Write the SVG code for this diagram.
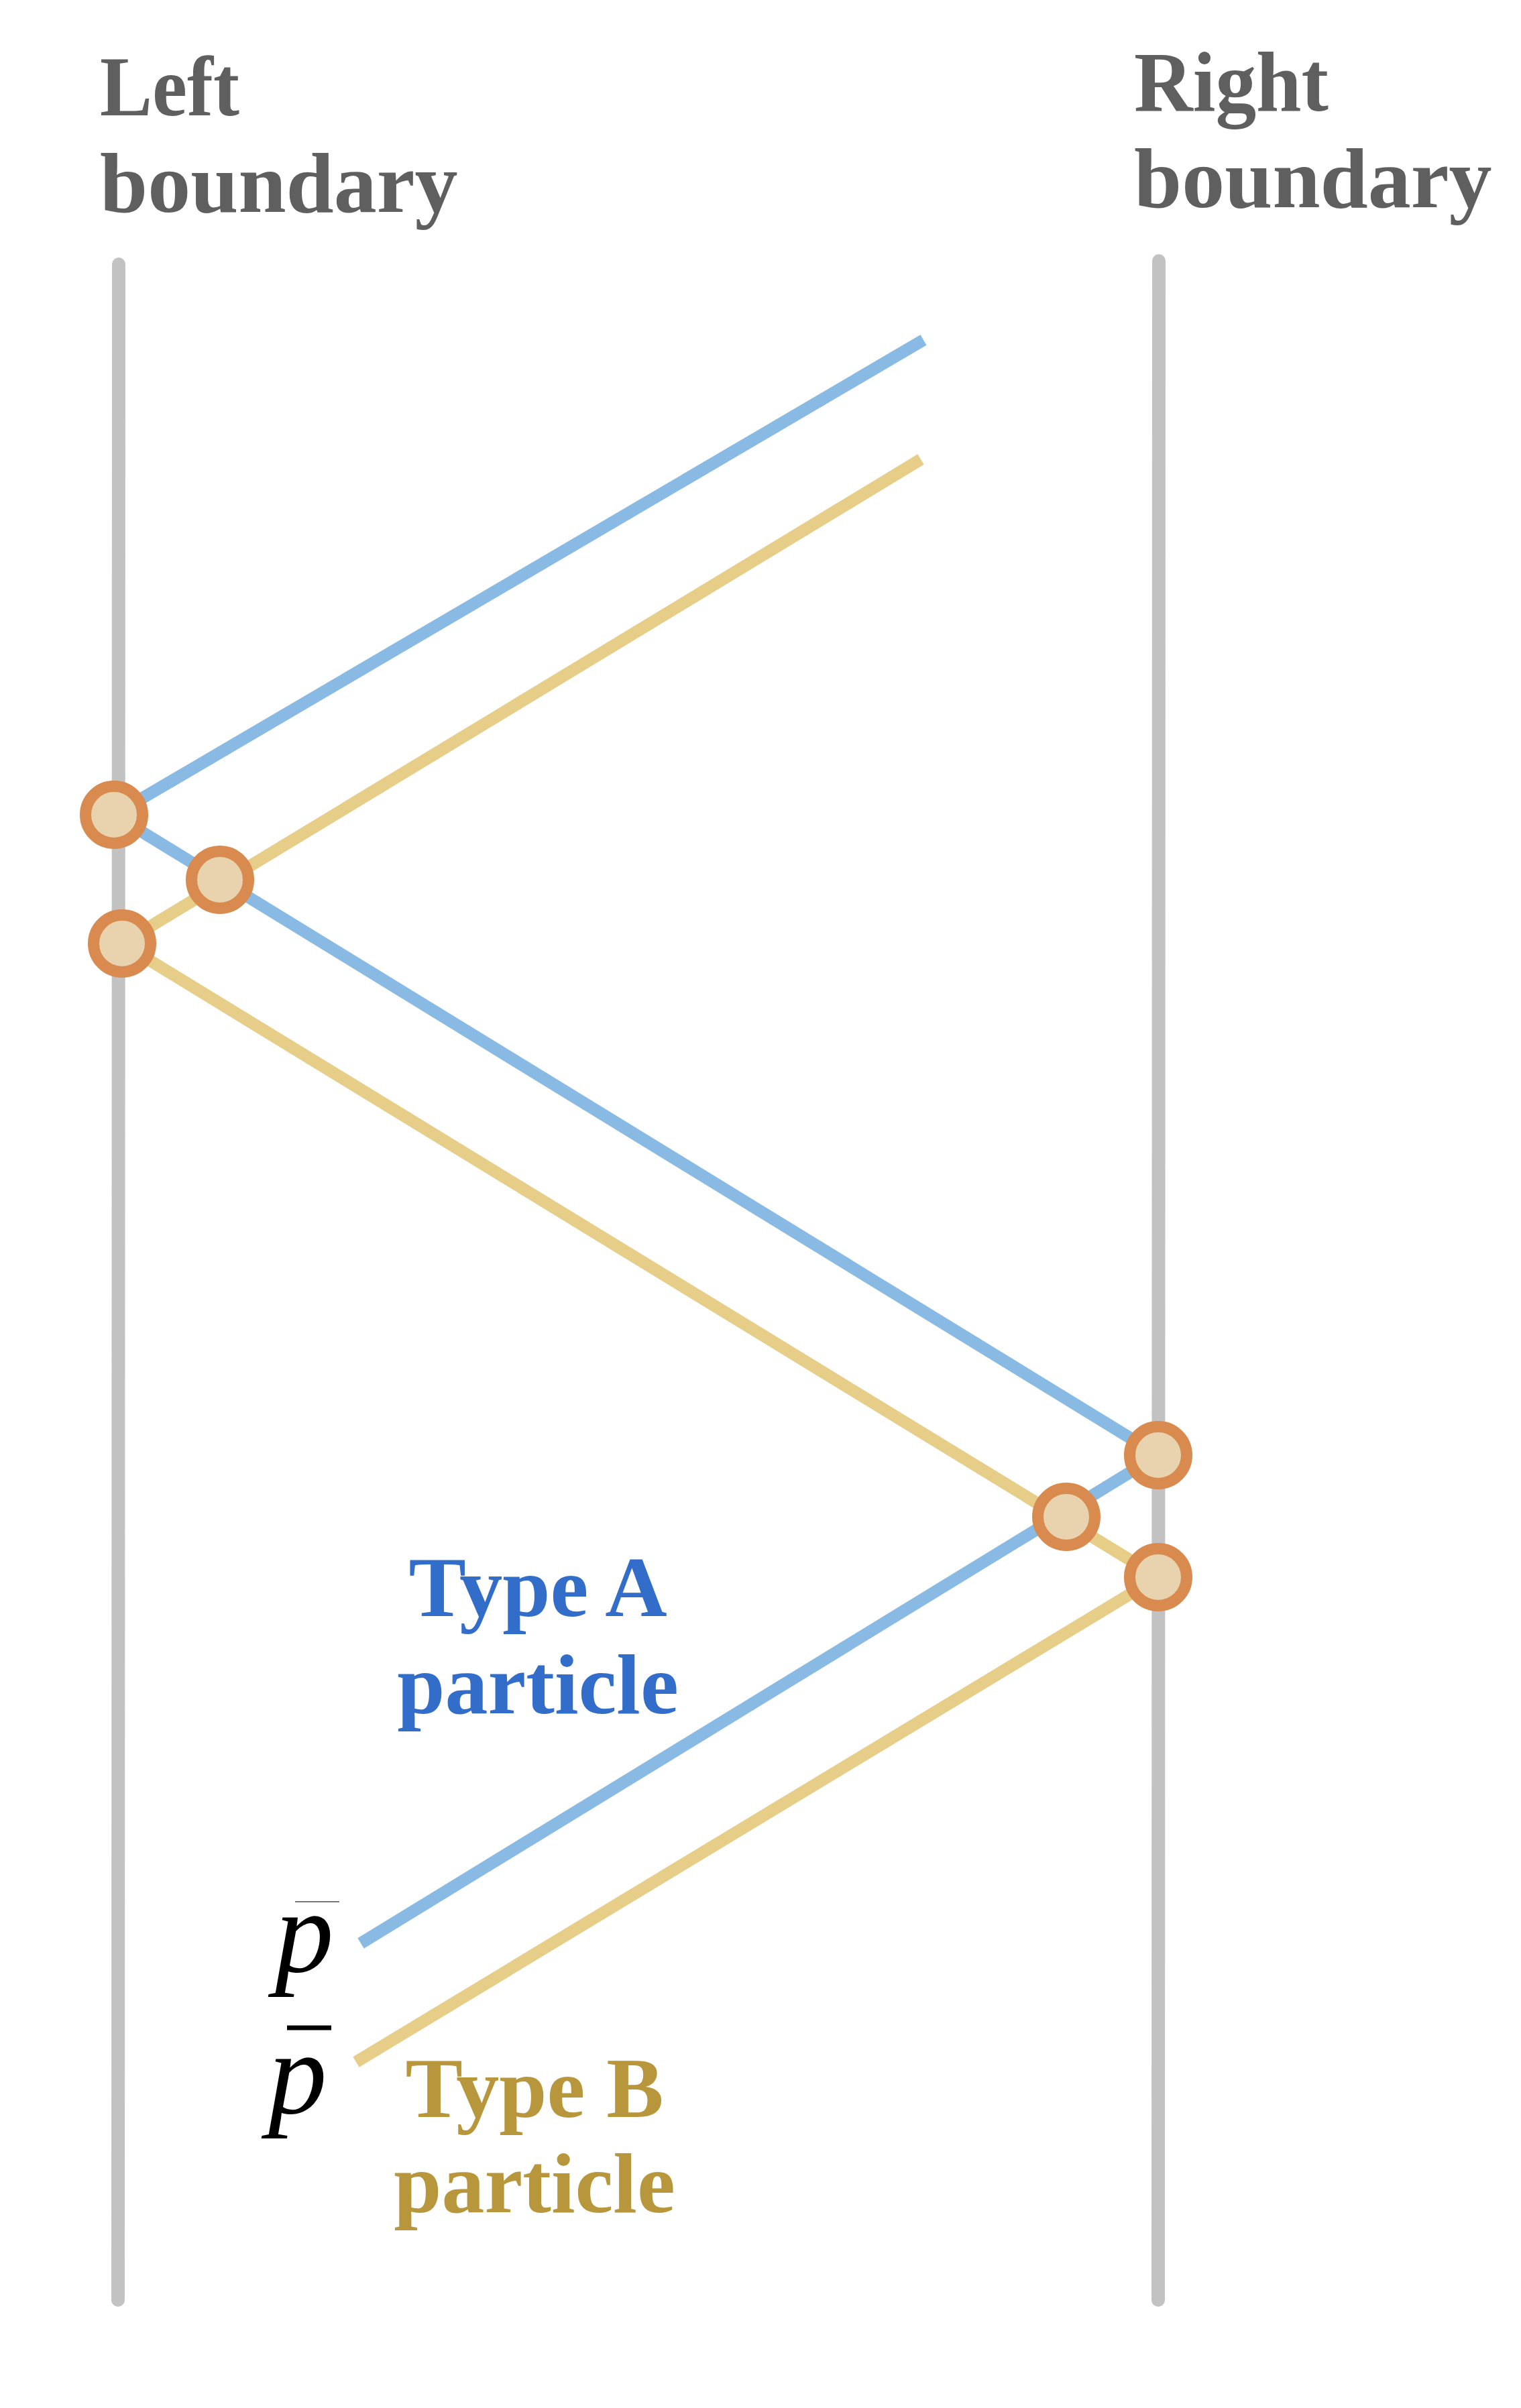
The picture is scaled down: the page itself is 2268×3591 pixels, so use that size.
<svg xmlns="http://www.w3.org/2000/svg" width="2268" height="3591" viewBox="0 0 2268 3591">
<style>
.bound{stroke:#c3c2c3;stroke-width:20;stroke-linecap:round;fill:none}
.ta{stroke:#88bae4;stroke-width:18;fill:none;stroke-linejoin:miter}
.tb{stroke:#e6cd88;stroke-width:18;fill:none;stroke-linejoin:miter}
.ev{fill:#e8d3ae;stroke:#d88a4f;stroke-width:17}
.lbl{font-family:"Liberation Serif",serif;font-weight:bold;font-size:128px}
.math{font-family:"Liberation Serif",serif;font-style:italic;font-size:175px;fill:#000}
</style>
<rect width="2268" height="3591" fill="#fff"/>
<g id="left-boundary">
<line class="bound" x1="177" y1="394" x2="176" y2="3430"/>
<text class="lbl" fill="#5f5f5f" x="149" y="172" textLength="208" lengthAdjust="spacingAndGlyphs">Left</text>
<text class="lbl" fill="#5f5f5f" x="149" y="316">boundary</text>
</g>
<g id="right-boundary">
<line class="bound" x1="1728" y1="389" x2="1727" y2="3430"/>
<text class="lbl" fill="#5f5f5f" x="1691" y="165" textLength="290" lengthAdjust="spacingAndGlyphs">Right</text>
<text class="lbl" fill="#5f5f5f" x="1691" y="309">boundary</text>
</g>
<g id="connectors">
<polyline class="ta" points="1377,507 170,1215 1727,2170 538,2898"/>
<polyline class="tb" points="1373,685 182,1407 1727,2352 531,3075"/>
</g>
<g id="events">
<circle class="ev" cx="170" cy="1215" r="42.5"/>
<circle class="ev" cx="328" cy="1312" r="42.5"/>
<circle class="ev" cx="182" cy="1407" r="42.5"/>
<circle class="ev" cx="1727" cy="2170" r="42.5"/>
<circle class="ev" cx="1590" cy="2262" r="42.5"/>
<circle class="ev" cx="1727" cy="2352" r="42.5"/>
</g>
<g id="type-a-label">
<text class="lbl" fill="#316dc9" x="802" y="2410" text-anchor="middle">Type A</text>
<text class="lbl" fill="#316dc9" x="802" y="2555" text-anchor="middle">particle</text>
</g>
<g id="type-b-label">
<text class="lbl" fill="#b8963c" x="797" y="3157" text-anchor="middle">Type B</text>
<text class="lbl" fill="#b8963c" x="797" y="3299" text-anchor="middle">particle</text>
</g>
<g id="pbar-a">
<line x1="440" y1="2836" x2="506" y2="2836" stroke="#777" stroke-width="2"/>
<text class="math" x="410" y="2941">p</text>
</g>
<g id="pbar-b">
<line x1="428" y1="3024" x2="494" y2="3024" stroke="#000" stroke-width="7"/>
<text class="math" x="400" y="3152">p</text>
</g>
</svg>
